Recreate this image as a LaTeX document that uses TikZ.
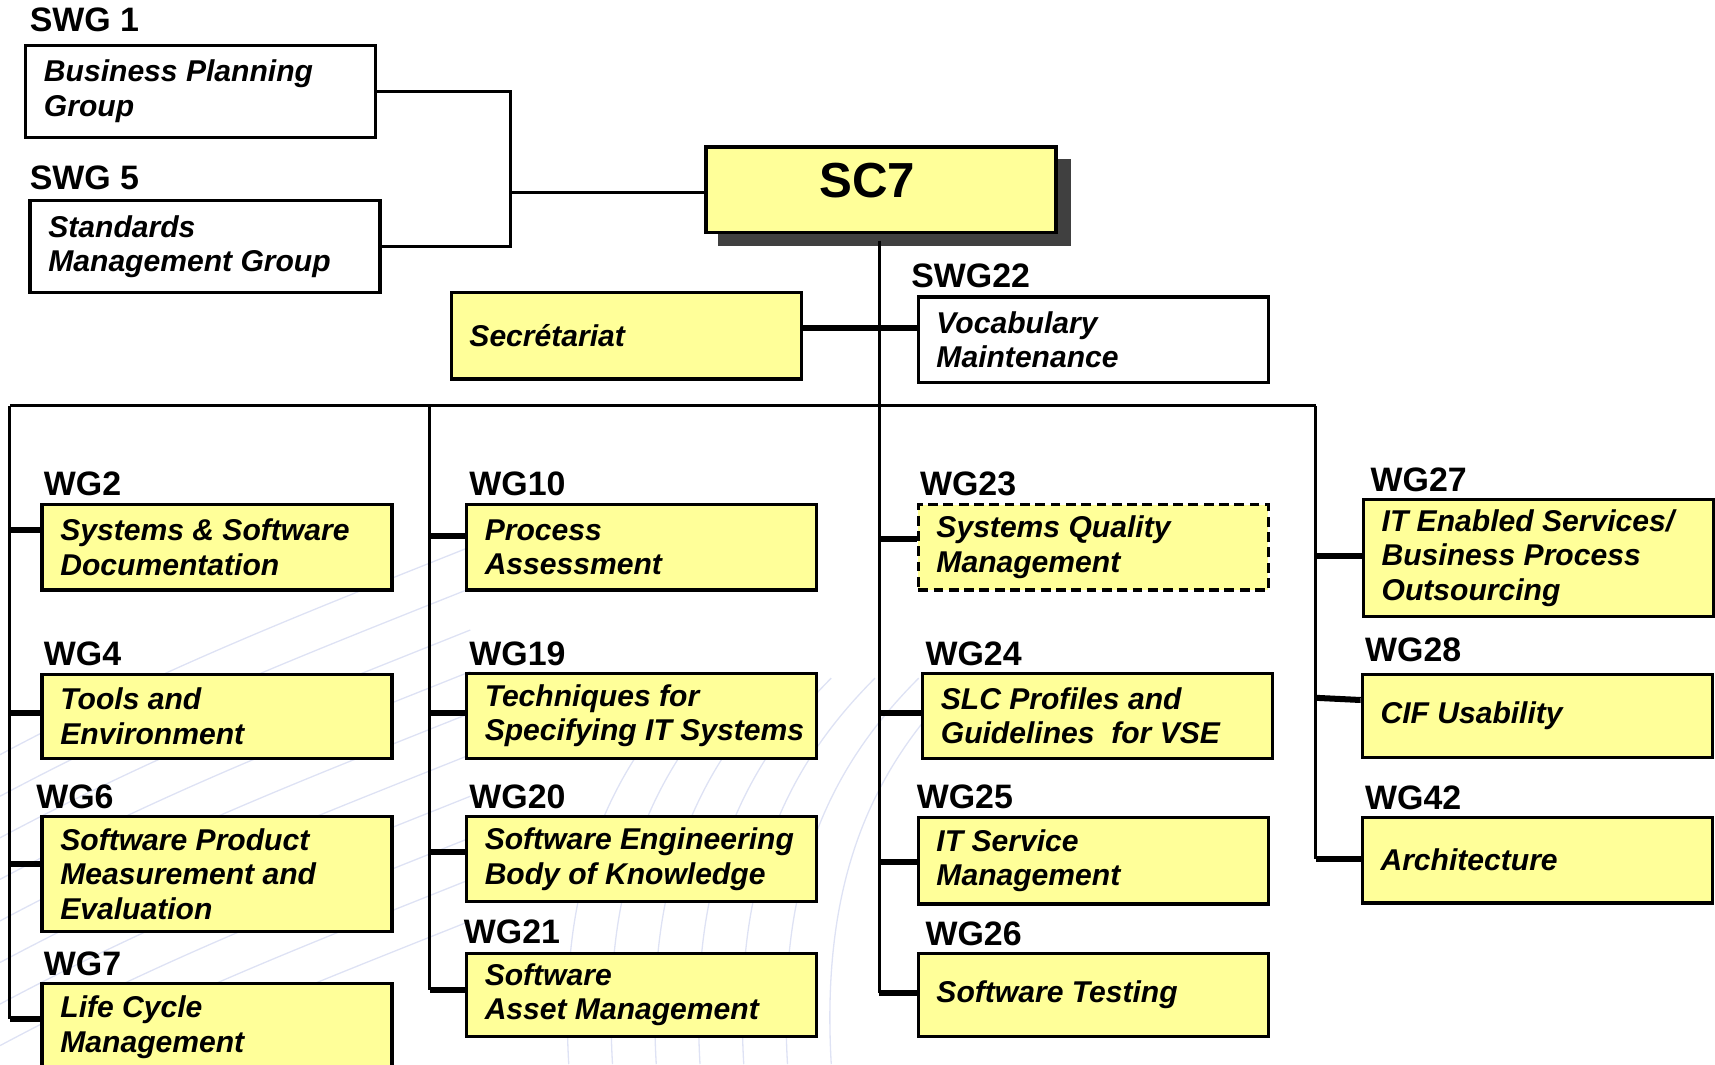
\documentclass[tikz,border=0pt]{standalone}
\usepackage{fontspec}
\setmainfont{Liberation Sans}
\definecolor{boxyellow}{RGB}{255,255,153}
\definecolor{shadowgray}{RGB}{64,64,64}
\definecolor{wm}{RGB}{222,226,244}
\tikzset{
  box/.style={draw=black, line width=3pt, fill=boxyellow, anchor=north west, minimum width=320pt, inner sep=0pt},
  whitebox/.style={box, fill=white},
  dashedbox/.style={box, dash pattern=on 9pt off 5pt},
  boxtext/.style={anchor=west, align=left, inner sep=0pt, font=\fontsize{27.5}{31.5}\selectfont\bfseries\itshape},
  lab/.style={anchor=base west, inner sep=0pt, font=\fontsize{31}{34}\selectfont\bfseries},
  bus/.style={line width=3pt},
  stub/.style={line width=5.5pt},
  wmline/.style={draw=wm, line width=1.2pt}
}
% [style] name, x, ytop, height, label, labelx, labelbaseline, text
\newcommand\wgbox[9][box]{%
  \node[#1, minimum height=#5] (#2) at (#3,#4) {};
  \node[boxtext] (#2-t) at ([xshift=18pt]#2.west) {#9};
  \node[lab] (#2-l) at (#7,#8) {#6};
}
\begin{document}
\begin{tikzpicture}[x=1pt,y=-1pt]
\useasboundingbox (0,0) rectangle (1568,973);
\clip (0,0) rectangle (1568,973);
% faint background watermark
\foreach \k in {0,...,9} {
  \draw[wmline] (0,690+\k*38) .. controls (150,610+\k*38) and (280,560+\k*38) .. (430,500+\k*38);
}
\foreach \r in {260,300,340,380,420,460} {
  \draw[wmline] (700,1090) ++(160:\r) arc (160:60:\r);
}
\foreach \xx in {520,560,600,640,680,720,760} {
  \draw[wmline] (\xx,973) .. controls (\xx-10,800) and (\xx+40,700) .. (\xx+120,620);
}
% SC7 and shadow
\fill[shadowgray] (656,145) rectangle (979,225);
\node[box, minimum height=78pt] (sc7) at (644,133) {};
\node[inner sep=0pt, font=\fontsize{45}{50}\selectfont\bfseries] (sc7-t) at (793,165) {SC7};
% SWG boxes
\wgbox[whitebox]{swg1}{22}{40}{84pt}{SWG 1}{27}{29}{Business Planning\\Group}
\wgbox[whitebox]{swg5}{26}{182}{84pt}{SWG 5}{27}{173}{Standards\\Management Group}
\coordinate (jn) at (467,176);
\draw[bus] (swg1.east) -| (jn) |- (swg5.east);
\draw[bus] (jn) -- (sc7.west |- jn);
% trunk and bus coordinates
\coordinate (trunktop) at (804,220);
\coordinate (bus) at (804,371);
\coordinate (b1) at (9,371);
\coordinate (b2) at (393,371);
\coordinate (b4) at (1203,371);
% secretariat and SWG22
\node[box, minimum height=79pt] (sec) at (411,266) {};
\node[boxtext] (sec-t) at ([xshift=18pt]sec.west) {Secrétariat};
\wgbox[whitebox]{swg22}{838}{270}{78pt}{SWG22}{833}{263}{Vocabulary\\Maintenance}
\draw[stub] (sec.east |- 0,300) -- (swg22.west |- 0,300);
% column 1
\wgbox{wg2}{37}{460}{78pt}{WG2}{40}{453}{Systems \& Software\\Documentation}
\wgbox{wg4}{37}{615}{77pt}{WG4}{40}{608}{Tools and\\Environment}
\wgbox{wg6}{37}{745}{105pt}{WG6}{33}{739}{Software Product\\Measurement and\\Evaluation}
\wgbox{wg7}{37}{898}{79pt}{WG7}{40}{892}{Life Cycle\\Management}
% column 2
\wgbox{wg10}{425}{460}{78pt}{WG10}{429}{453}{Process\\Assessment}
\wgbox{wg19}{425}{614}{78pt}{WG19}{429}{608}{Techniques for\\Specifying IT Systems}
\wgbox{wg20}{425}{745}{78pt}{WG20}{429}{739}{Software Engineering\\Body of Knowledge}
\wgbox{wg21}{425}{870}{76pt}{WG21}{424}{863}{Software\\Asset Management}
% column 3
\wgbox[dashedbox]{wg23}{838}{460}{78pt}{WG23}{841}{453}{Systems Quality\\Management}
\wgbox{wg24}{842}{614}{78pt}{WG24}{846}{608}{SLC Profiles and\\Guidelines\ \ for VSE}
\wgbox{wg25}{838}{746}{79pt}{WG25}{838}{739}{IT Service\\Management}
\wgbox{wg26}{838}{870}{76pt}{WG26}{846}{864}{Software Testing}
% column 4
\wgbox{wg27}{1245}{455}{107pt}{WG27}{1253}{449}{IT Enabled Services/\\Business Process\\Outsourcing}
\wgbox{wg28}{1244}{615}{76pt}{WG28}{1248}{605}{CIF Usability}
\wgbox{wg42}{1244}{746}{78pt}{WG42}{1248}{740}{Architecture}
% buses
\draw[bus] (trunktop) -- (bus) -- (804,908);
\draw[bus] (b1) -- (b4);
\draw[bus] (b1) -- (9,932);
\draw[bus] (b2) -- (393,905);
\draw[bus] (b4) -- (1203,785);
% stubs
\draw[stub] (b1 |- 0,485) -- (wg2.west |- 0,485);
\draw[stub] (b1 |- 0,652) -- (wg4.west |- 0,652);
\draw[stub] (b1 |- 0,790) -- (wg6.west |- 0,790);
\draw[stub] (b1 |- 0,932) -- (wg7.west |- 0,932);
\draw[stub] (b2 |- 0,490) -- (wg10.west |- 0,490);
\draw[stub] (b2 |- 0,652) -- (wg19.west |- 0,652);
\draw[stub] (b2 |- 0,779) -- (wg20.west |- 0,779);
\draw[stub] (b2 |- 0,905) -- (wg21.west |- 0,905);
\draw[stub] (bus |- 0,493) -- (wg23.west |- 0,493);
\draw[stub] (bus |- 0,652) -- (wg24.west |- 0,652);
\draw[stub] (bus |- 0,788) -- (wg25.west |- 0,788);
\draw[stub] (bus |- 0,908) -- (wg26.west |- 0,908);
\draw[stub] (b4 |- 0,508) -- (wg27.west |- 0,508);
\draw[stub] (b4 |- 0,638) -- (wg28.west |- 0,640);
\draw[stub] (b4 |- 0,785) -- (wg42.west |- 0,785);
\end{tikzpicture}
\end{document}
